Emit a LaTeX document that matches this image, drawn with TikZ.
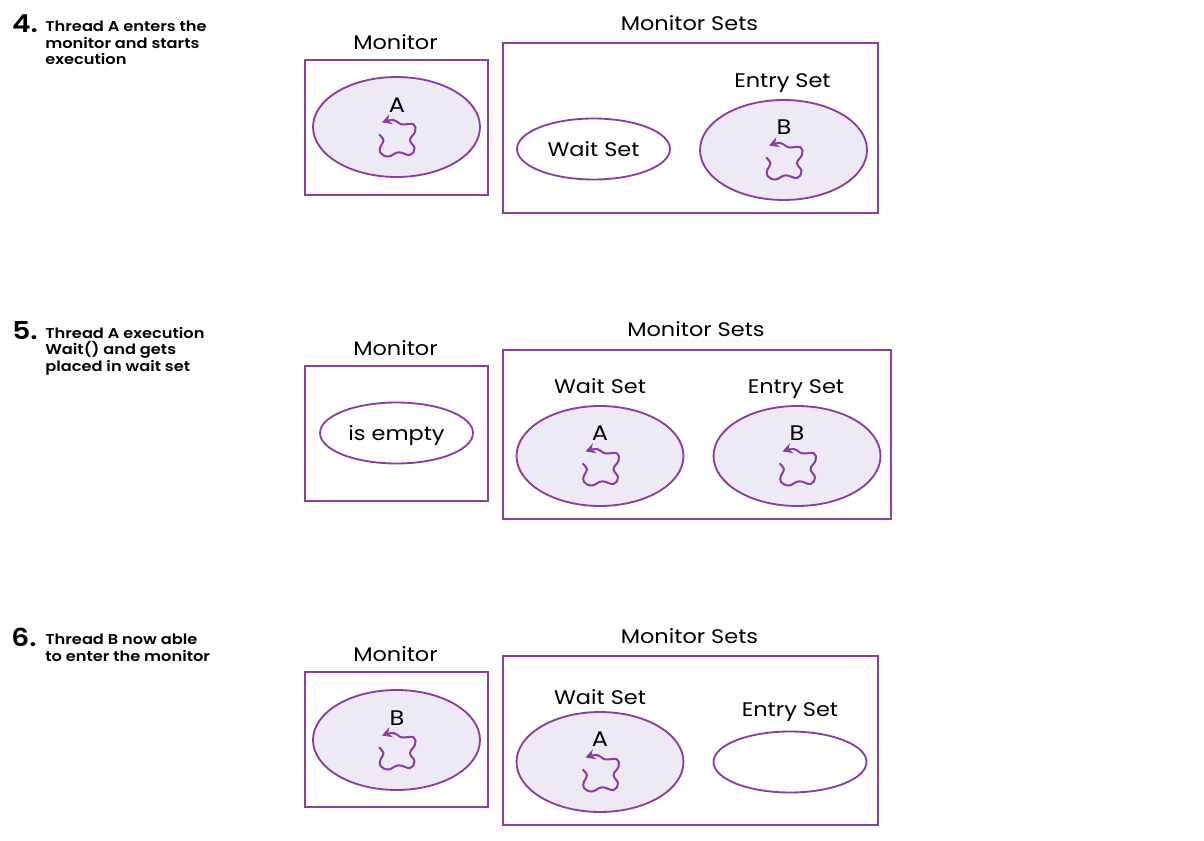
\documentclass[tikz,border=0pt]{standalone}
\usepackage{fontspec}
\setmainfont[FakeStretch=1.14,BoldFont={Poppins SemiBold}]{Poppins}
\usetikzlibrary{shapes.geometric,arrows.meta}

\definecolor{monpurple}{HTML}{8A3FA0}
\definecolor{monfill}{HTML}{EEEAF5}

\tikzset{
  monbox/.style={draw=monpurple,line width=1.14pt,fill=white,minimum width=3.66cm,minimum height=2.7cm,inner sep=0pt},
  fulloval/.style={ellipse,draw=monpurple,line width=1.05pt,fill=monfill,minimum width=3.34cm,minimum height=2cm,inner sep=0pt},
  smalloval/.style={ellipse,draw=monpurple,line width=1.05pt,fill=white,minimum width=3.06cm,minimum height=1.22cm,inner sep=0pt,text depth=0pt,font=\fontsize{11.2}{13}\selectfont},
  boxlabel/.style={font=\fontsize{11.2}{13}\selectfont,inner sep=0pt,text depth=0pt},
  threadlabel/.style={font=\fontsize{12}{14}\selectfont,inner sep=0pt},
  stepnum/.style={font=\fontsize{14}{16}\selectfont\bfseries,inner sep=0pt},
  steptext/.style={font=\fontsize{8.1}{9.25}\selectfont\bfseries,inner sep=0pt,anchor=north west,align=left},
  threadpath/.pic={
    \draw[monpurple,line width=1.15pt,-{Stealth[length=5.5pt,width=6pt]}]
      plot[smooth,tension=0.7] coordinates {(-17.5,7.3) (-13,13.5) (-16,19.5) (-16,26) (-8,29.5) (2,25.3) (13.5,28) (18,21.3) (13.5,13) (18.5,4.7) (17,-2.7) (5,-2.7) (-3,-7) (-14.5,-4.5)};
  }
}

\begin{document}
\begin{tikzpicture}[x=0.02cm,y=-0.02cm]

  % page
  \path[use as bounding box] (0,0) rectangle (1204,841);

  %==========================
  % Step 4
  %==========================
  \node[stepnum] (num4) at (25,24) {4.};
  \node[steptext] (text4) at (45,21) {Thread A enters the\\monitor and starts\\execution};

  \node[boxlabel] (mon4lbl) at (395.5,42) {Monitor};
  \node[monbox] (mon4) at (396.5,127.5) {};
  \node[fulloval] (mon4oval) at (396.5,127) {};
  \node[threadlabel] (mon4a) at (397,105) {A};
  \pic at (396.5,127) {threadpath};

  \node[boxlabel] (sets4lbl) at (689.5,23) {Monitor Sets};
  \node[monbox,minimum width=7.5cm,minimum height=3.4cm] (sets4) at (690.5,128) {};
  \node[smalloval] (wait4) at (593.5,149) {Wait Set};
  \node[boxlabel] (entry4lbl) at (782.5,81) {Entry Set};
  \node[fulloval] (entry4) at (783.5,150) {};
  \node[threadlabel] (entry4b) at (784,127) {B};
  \pic at (783.5,150) {threadpath};

  %==========================
  % Step 5
  %==========================
  \node[stepnum] (num5) at (25,331) {5.};
  \node[steptext] (text5) at (45,327) {Thread A execution\\Wait() and gets\\placed in wait set};

  \node[boxlabel] (mon5lbl) at (395.5,348) {Monitor};
  \node[monbox] (mon5) at (396.5,433.5) {};
  \node[smalloval] (empty5) at (396.5,433) {is empty};

  \node[boxlabel] (sets5lbl) at (696,329) {Monitor Sets};
  \node[monbox,minimum width=7.76cm,minimum height=3.38cm] (sets5) at (697,434.5) {};
  \node[boxlabel] (wait5lbl) at (600,386) {Wait Set};
  \node[fulloval] (wait5) at (600,456) {};
  \node[threadlabel] (wait5a) at (600,433) {A};
  \pic at (600,456) {threadpath};
  \node[boxlabel] (entry5lbl) at (796,387) {Entry Set};
  \node[fulloval] (entry5) at (797,456) {};
  \node[threadlabel] (entry5b) at (797,433) {B};
  \pic at (797,456) {threadpath};

  %==========================
  % Step 6
  %==========================
  \node[stepnum] (num6) at (24,637) {6.};
  \node[steptext] (text6) at (45,634) {Thread B now able\\to enter the monitor};

  \node[boxlabel] (mon6lbl) at (395.5,654) {Monitor};
  \node[monbox] (mon6) at (396.5,739.5) {};
  \node[fulloval] (mon6oval) at (396.5,740) {};
  \node[threadlabel] (mon6b) at (397,718) {B};
  \pic at (396.5,740) {threadpath};

  \node[boxlabel] (sets6lbl) at (689.5,636) {Monitor Sets};
  \node[monbox,minimum width=7.5cm,minimum height=3.38cm] (sets6) at (690.5,740.5) {};
  \node[boxlabel] (wait6lbl) at (600,697) {Wait Set};
  \node[fulloval] (wait6) at (600,762) {};
  \node[threadlabel] (wait6a) at (600,739) {A};
  \pic at (600,762) {threadpath};
  \node[boxlabel] (entry6lbl) at (790,710) {Entry Set};
  \node[smalloval] (entry6) at (790,762) {};

\end{tikzpicture}
\end{document}
